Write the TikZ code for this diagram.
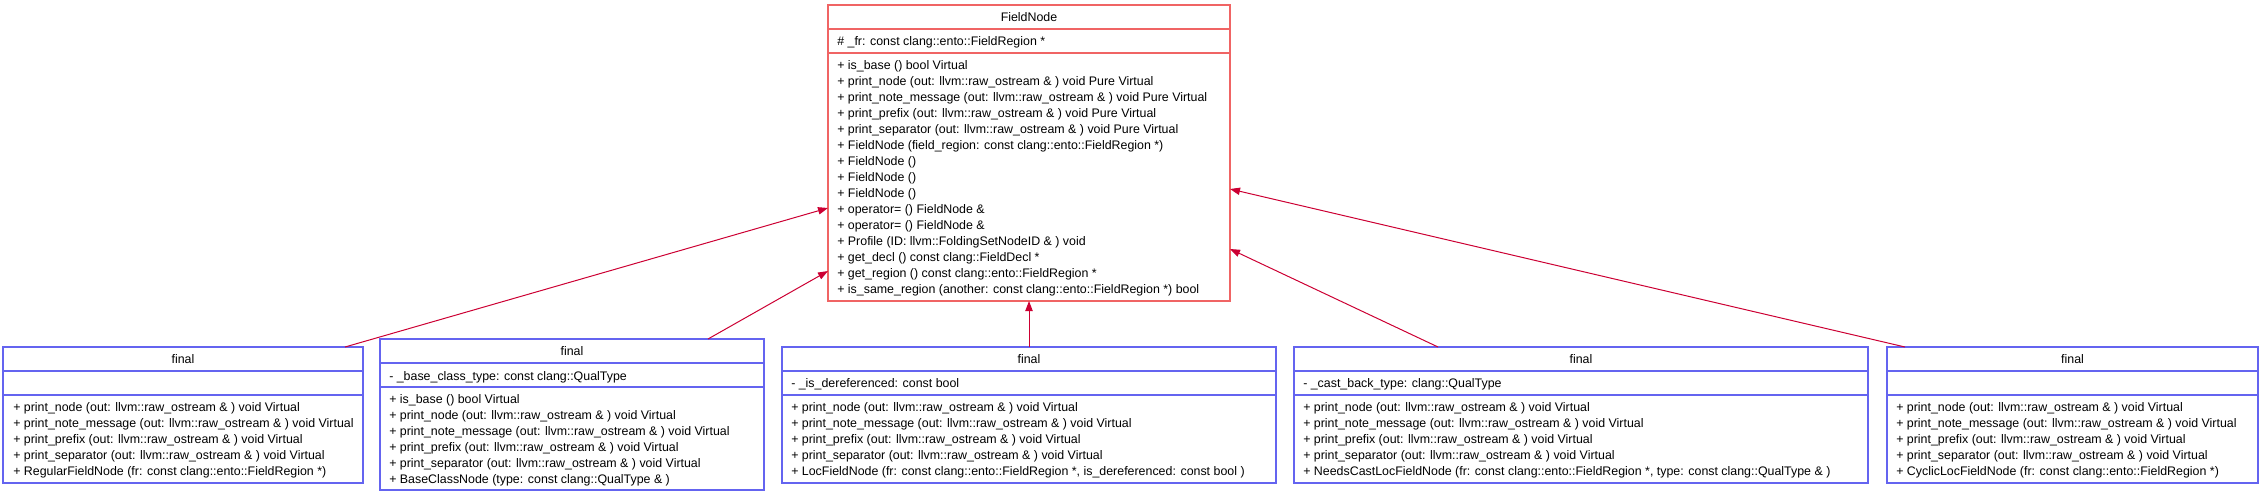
\documentclass[tikz,border=0pt]{standalone}
\usepackage{fontspec}
\setmainfont{Liberation Sans}
\usetikzlibrary{arrows.meta,calc}
\definecolor{fnred}{RGB}{240,100,100}
\definecolor{clblue}{RGB}{100,100,240}
\definecolor{inhred}{RGB}{204,0,51}
\newcommand\umlmethods[4]{%
  \foreach \mtext [count=\k from 0] in {#4} {%
    \node[ln] (#3\k) at (#1,{#2+16*\k}) {\mtext};}}
\begin{document}
\begin{tikzpicture}[x=0.75pt,y=-0.75pt,
  font=\fontsize{9.3pt}{12pt}\selectfont,
  redbox/.style={draw=fnred, line width=1.1pt, inner sep=0pt, outer sep=0pt, anchor=north west},
  bluebox/.style={draw=clblue, line width=1.1pt, inner sep=0pt, outer sep=0pt, anchor=north west},
  redsep/.style={draw=fnred, line width=1.1pt},
  bluesep/.style={draw=clblue, line width=1.1pt},
  ttl/.style={anchor=base, inner sep=0pt},
  ln/.style={anchor=base west, inner sep=0pt},
  inh/.style={draw=inhred, line width=0.75pt, -{Triangle[length=7.5pt,width=5.5pt]}}]
\useasboundingbox (0,0) rectangle (2261,496);

% ---------- FieldNode ----------
\node[redbox, minimum width=301.5pt, minimum height=222pt] (fn) at (828,5) {};
\draw[redsep] (fn.west |- 0,29) -- (fn.east |- 0,29);
\draw[redsep] (fn.west |- 0,53) -- (fn.east |- 0,53);
\node[ttl] (fnt) at (1029,21.5) {FieldNode};
\node[ln] (fna) at (837,45.5) {\# \_fr: const clang::ento::FieldRegion *};
\umlmethods{837}{69.5}{fnm}{
  + is\_base () bool Virtual,
  + print\_node (out: llvm::raw\_ostream \& ) void Pure Virtual,
  + print\_note\_message (out: llvm::raw\_ostream \& ) void Pure Virtual,
  + print\_prefix (out: llvm::raw\_ostream \& ) void Pure Virtual,
  + print\_separator (out: llvm::raw\_ostream \& ) void Pure Virtual,
  + FieldNode (field\_region: const clang::ento::FieldRegion *),
  + FieldNode (),
  + FieldNode (),
  + FieldNode (),
  + operator= () FieldNode \&,
  + operator= () FieldNode \&,
  + Profile (ID: llvm::FoldingSetNodeID \& ) void,
  + get\_decl () const clang::FieldDecl *,
  + get\_region () const clang::ento::FieldRegion *,
  + is\_same\_region (another: const clang::ento::FieldRegion *) bool}

% ---------- Box 1: RegularFieldNode ----------
\node[bluebox, minimum width=270pt, minimum height=102pt] (b1) at (3,347) {};
\draw[bluesep] (b1.west |- 0,371) -- (b1.east |- 0,371);
\draw[bluesep] (b1.west |- 0,395) -- (b1.east |- 0,395);
\node[ttl] (b1t) at (183,363.5) {final};
\umlmethods{13}{411.5}{bam}{
  + print\_node (out: llvm::raw\_ostream \& ) void Virtual,
  + print\_note\_message (out: llvm::raw\_ostream \& ) void Virtual,
  + print\_prefix (out: llvm::raw\_ostream \& ) void Virtual,
  + print\_separator (out: llvm::raw\_ostream \& ) void Virtual,
  + RegularFieldNode (fr: const clang::ento::FieldRegion *)}

% ---------- Box 2: BaseClassNode ----------
\node[bluebox, minimum width=288pt, minimum height=113.25pt] (b2) at (380,339) {};
\draw[bluesep] (b2.west |- 0,363) -- (b2.east |- 0,363);
\draw[bluesep] (b2.west |- 0,387) -- (b2.east |- 0,387);
\node[ttl] (b2t) at (572,355.5) {final};
\node[ln] (b2a) at (389,380) {- \_base\_class\_type: const clang::QualType};
\umlmethods{389}{403.5}{bbm}{
  + is\_base () bool Virtual,
  + print\_node (out: llvm::raw\_ostream \& ) void Virtual,
  + print\_note\_message (out: llvm::raw\_ostream \& ) void Virtual,
  + print\_prefix (out: llvm::raw\_ostream \& ) void Virtual,
  + print\_separator (out: llvm::raw\_ostream \& ) void Virtual,
  + BaseClassNode (type: const clang::QualType \& )}

% ---------- Box 3: LocFieldNode ----------
\node[bluebox, minimum width=370.5pt, minimum height=102pt] (b3) at (782,347) {};
\draw[bluesep] (b3.west |- 0,371) -- (b3.east |- 0,371);
\draw[bluesep] (b3.west |- 0,395) -- (b3.east |- 0,395);
\node[ttl] (b3t) at (1029,363.5) {final};
\node[ln] (b3a) at (791,387.5) {- \_is\_dereferenced: const bool};
\umlmethods{791}{411.5}{bcm}{
  + print\_node (out: llvm::raw\_ostream \& ) void Virtual,
  + print\_note\_message (out: llvm::raw\_ostream \& ) void Virtual,
  + print\_prefix (out: llvm::raw\_ostream \& ) void Virtual,
  + print\_separator (out: llvm::raw\_ostream \& ) void Virtual,
  {+ LocFieldNode (fr: const clang::ento::FieldRegion *, is\_dereferenced: const bool )}}

% ---------- Box 4: NeedsCastLocFieldNode ----------
\node[bluebox, minimum width=430.5pt, minimum height=102pt] (b4) at (1294,347) {};
\draw[bluesep] (b4.west |- 0,371) -- (b4.east |- 0,371);
\draw[bluesep] (b4.west |- 0,395) -- (b4.east |- 0,395);
\node[ttl] (b4t) at (1581,363.5) {final};
\node[ln] (b4a) at (1303,387.5) {- \_cast\_back\_type: clang::QualType};
\umlmethods{1303}{411.5}{bdm}{
  + print\_node (out: llvm::raw\_ostream \& ) void Virtual,
  + print\_note\_message (out: llvm::raw\_ostream \& ) void Virtual,
  + print\_prefix (out: llvm::raw\_ostream \& ) void Virtual,
  + print\_separator (out: llvm::raw\_ostream \& ) void Virtual,
  {+ NeedsCastLocFieldNode (fr: const clang::ento::FieldRegion *, type: const clang::QualType \& )}}

% ---------- Box 5: CyclicLocFieldNode ----------
\node[bluebox, minimum width=278.25pt, minimum height=102pt] (b5) at (1887,347) {};
\draw[bluesep] (b5.west |- 0,371) -- (b5.east |- 0,371);
\draw[bluesep] (b5.west |- 0,395) -- (b5.east |- 0,395);
\node[ttl] (b5t) at (2072.5,363.5) {final};
\umlmethods{1896}{411.5}{bem}{
  + print\_node (out: llvm::raw\_ostream \& ) void Virtual,
  + print\_note\_message (out: llvm::raw\_ostream \& ) void Virtual,
  + print\_prefix (out: llvm::raw\_ostream \& ) void Virtual,
  + print\_separator (out: llvm::raw\_ostream \& ) void Virtual,
  + CyclicLocFieldNode (fr: const clang::ento::FieldRegion *)}

% ---------- inheritance connectors ----------
\draw[inh] ($(b1.north west)+(342,0)$) -- ($(fn.north west)+(0,203)$);
\draw[inh] ($(b2.north west)+(328,0)$) -- ($(fn.north west)+(0,266)$);
\draw[inh] (b3.north) -- (fn.south);
\draw[inh] ($(b4.north west)+(144,0)$) -- ($(fn.north east)+(0,244)$);
\draw[inh] ($(b5.north west)+(18,0)$) -- ($(fn.north east)+(0,184)$);
\end{tikzpicture}
\end{document}
